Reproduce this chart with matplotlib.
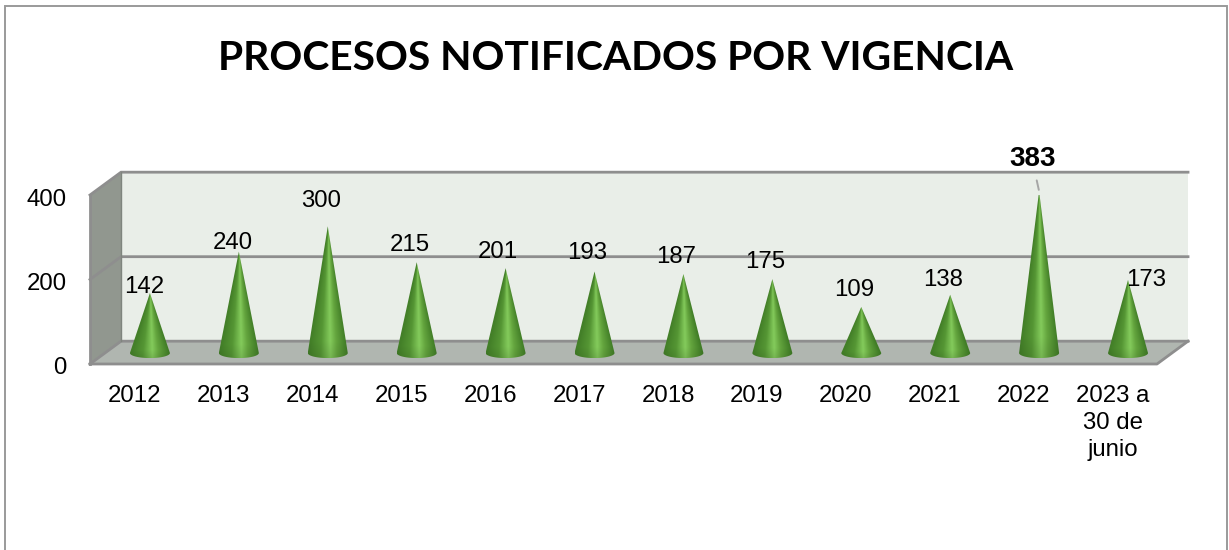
import numpy as np
from matplotlib import pyplot as plt
from matplotlib.colors import LinearSegmentedColormap
from matplotlib.patches import Polygon, Rectangle
from matplotlib.transforms import ScaledTranslation

categories = ['2012', '2013', '2014', '2015', '2016', '2017', '2018', '2019',
              '2020', '2021', '2022', '2023 a\n30 de\njunio']
values = [142, 240, 300, 215, 201, 193, 187, 175, 109, 138, 383, 173]
y_ticks = [0, 200, 400]
title = 'PROCESOS NOTIFICADOS POR VIGENCIA'

# label shift from the cone tip, in pixels
label_shift = [(-6, 6), (-6, 9), (-7, 25), (-7, 17), (-8, 16), (-7, 18),
               (-7, 17), (-7, 17), (-7, 17), (-7, 15), (-7, 32), (18, 0)]

WALL_DX, WALL_DY = 0.349, 54
CONE_DX, CONE_DY = 0.174, 26
CONE_RX, CONE_RY = 0.225, 12
LINE = '#8e8e8e'

plt.rcParams['font.family'] = ['Liberation Sans', 'DejaVu Sans']
fig = plt.figure(figsize=(12.29, 5.5), dpi=100)
fig.add_artist(Rectangle((5 / 1229, -0.05), 1222 / 1229, 1.04, transform=fig.transFigure,
                         fill=False, edgecolor='#9a9a9a', linewidth=1.4))
ax = fig.add_axes([90 / 1229, 186 / 550, 1067 / 1229, 169 / 550])
ax.patch.set_visible(False)
for s in ax.spines.values():
    s.set_visible(False)

x0, x1 = -0.5, 11.5
y1 = 400


def shape(pts, **kw):
    ax.add_patch(Polygon(pts, clip_on=False, **kw))


# walls and floor of the 3d box
shape([(x0 + WALL_DX, WALL_DY), (x1 + WALL_DX, WALL_DY), (x1 + WALL_DX, y1 + WALL_DY),
       (x0 + WALL_DX, y1 + WALL_DY)], facecolor='#e9eee8', edgecolor='none', zorder=1)
shape([(x0, 0), (x0 + WALL_DX, WALL_DY), (x0 + WALL_DX, y1 + WALL_DY), (x0, y1)],
      facecolor='#91978f', edgecolor='none', zorder=1)
shape([(x0, 0), (x1, 0), (x1 + WALL_DX, WALL_DY), (x0 + WALL_DX, WALL_DY)],
      facecolor='#b0b6b0', edgecolor='none', zorder=1)
for v in y_ticks:
    ax.plot([x0, x0 + WALL_DX, x1 + WALL_DX], [v, v + WALL_DY, v + WALL_DY], color=LINE,
            linewidth=2, clip_on=False, zorder=2, solid_joinstyle='miter')
ax.plot([x0, x1, x1 + WALL_DX], [0, 0, WALL_DY], color=LINE, linewidth=2, clip_on=False, zorder=2)
ax.plot([x0, x0], [0, y1], color=LINE, linewidth=2, clip_on=False, zorder=2)
ax.plot([x0 + WALL_DX] * 2, [WALL_DY, y1 + WALL_DY], color='#7f857e', linewidth=1,
        clip_on=False, zorder=2)

# cone shading, runs round the cone so it narrows to the tip
cone_map = LinearSegmentedColormap.from_list(
    'cone', [(0, '#437f28'), (0.3, '#559634'), (0.55, '#84cb5c'), (0.72, '#64a53e'), (1, '#407c26')])
ss, tt = np.meshgrid(np.linspace(-1, 1, 160), np.linspace(0, 0.995, 120))
shade = cone_map(np.clip((ss / (1 - tt) + 1) / 2, 0, 1))
shade[..., :3] *= (0.9 + 0.1 * np.clip(tt * 8, 0, 1))[..., None]
ang = np.linspace(np.pi, 2 * np.pi, 40)

for i, v in enumerate(values):
    xc = i + CONE_DX
    base = CONE_DY
    tip = base + v
    arc = np.column_stack([xc + CONE_RX * np.cos(ang), base + CONE_RY * np.sin(ang)])
    outline = Polygon(np.vstack([[(xc, tip)], arc]), transform=ax.transData, facecolor='none',
                      edgecolor='none')
    ax.add_patch(outline)
    im = ax.imshow(shade, extent=(xc - CONE_RX, xc + CONE_RX, base - CONE_RY, tip), origin='lower',
                   aspect='auto', zorder=3, interpolation='bilinear')
    im.set_clip_path(outline)
    dx, dy = label_shift[i]
    top = v == max(values)
    props = dict(arrowstyle='-', color='#a6a6a6', linewidth=1.4, shrinkA=4, shrinkB=1) if top else None
    ax.annotate(str(v), (xc, tip), xytext=(dx, dy), textcoords='offset pixels', ha='center',
                va='center', fontsize=20 if top else 17.3,
                fontweight='bold' if top else 'normal', color='black', zorder=5,
                annotation_clip=False, arrowprops=props)

ax.set_xlim(x0, x1)
ax.set_ylim(0, y1)
ax.set_xticks(range(len(categories)))
ax.set_xticklabels(categories, fontsize=17.3, linespacing=1.3)
ax.set_yticks(y_ticks)
ax.set_yticklabels([str(t) for t in y_ticks], fontsize=17.3)
ax.tick_params(axis='x', length=0, pad=15)
ax.tick_params(axis='y', length=0, pad=17)
nudge = ScaledTranslation(0, -2 / 100, fig.dpi_scale_trans)
for lab in ax.get_yticklabels():
    lab.set_transform(lab.get_transform() + nudge)

fig.text(616 / 1229, 1 - 58 / 550, title, ha='center', va='center', fontsize=29.3, fontweight='bold',
         family=['Lato', 'DejaVu Sans'], color='black')

fig.savefig('out.png', dpi=100)
